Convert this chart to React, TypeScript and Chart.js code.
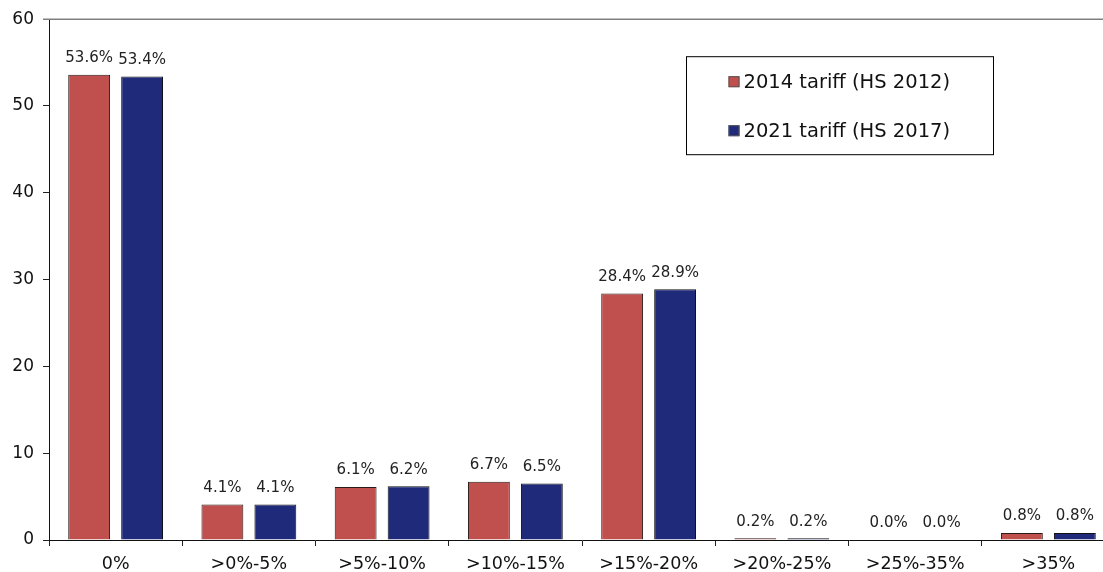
import React, { useEffect, useRef } from "react";
import { Chart, registerables } from "chart.js";

Chart.register(...registerables);

const categories = ["0%", ">0%-5%", ">5%-10%", ">10%-15%", ">15%-20%", ">20%-25%", ">25%-35%", ">35%"];
const tariff2014 = [53.6, 4.1, 6.1, 6.7, 28.4, 0.2, 0.0, 0.8];
const tariff2021 = [53.4, 4.1, 6.2, 6.5, 28.9, 0.2, 0.0, 0.8];
const seriesNames = ["2014 tariff (HS 2012)", "2021 tariff (HS 2017)"];
const yTicks = [0, 10, 20, 30, 40, 50, 60];

const FONT = "'DejaVu Sans', Verdana, sans-serif";
const RED = "#C0504D";
const BLUE = "#1F2A7B";

const labelPlugin = {
  id: "valueLabels",
  afterDatasetsDraw(chart: any) {
    const ctx = chart.ctx;
    ctx.save();
    ctx.font = `15px ${FONT}`;
    ctx.fillStyle = "#222";
    ctx.textAlign = "center";
    ctx.textBaseline = "bottom";
    chart.data.datasets.forEach((ds: any, i: number) => {
      const meta = chart.getDatasetMeta(i);
      meta.data.forEach((el: any, j: number) => {
        const v = ds.data[j];
        ctx.fillText(v.toFixed(1) + "%", el.x, el.y - 9);
      });
    });
    ctx.restore();
  },
};

const framePlugin = {
  id: "frame",
  afterDraw(chart: any) {
    const ctx = chart.ctx;
    const a = chart.chartArea;
    ctx.save();
    ctx.strokeStyle = "#808080";
    ctx.lineWidth = 1.5;
    ctx.beginPath();
    ctx.moveTo(a.left - 6, a.top);
    ctx.lineTo(a.right, a.top);
    ctx.stroke();

    // legend box
    const bx = a.left + 637.5;
    const by = a.top + 37.5;
    const bw = 307;
    const bh = 98;
    ctx.fillStyle = "#fff";
    ctx.fillRect(bx, by, bw, bh);
    ctx.strokeStyle = "#000";
    ctx.lineWidth = 1;
    ctx.strokeRect(bx, by, bw, bh);
    const colors = [RED, BLUE];
    ctx.font = `19.5px ${FONT}`;
    ctx.textBaseline = "middle";
    ctx.textAlign = "left";
    chart.data.datasets.forEach((ds: any, i: number) => {
      const cy = by + 25 + i * 49;
      ctx.fillStyle = colors[i];
      ctx.fillRect(bx + 42, cy - 5.5, 11, 11);
      ctx.strokeStyle = "#555";
      ctx.strokeRect(bx + 42.5, cy - 5, 10, 10);
      ctx.fillStyle = "#111";
      ctx.fillText(ds.label, bx + 57, cy + 1);
    });
    ctx.restore();
  },
};

export default function App() {
  const ref = useRef<HTMLCanvasElement | null>(null);
  useEffect(() => {
    if (!ref.current) return;
    const chart = new Chart(ref.current, {
      type: "bar",
      data: {
        labels: categories,
        datasets: [
          {
            label: seriesNames[0],
            data: tariff2014,
            backgroundColor: RED,
            borderColor: "#2a1a1a",
            borderWidth: 1,
            categoryPercentage: 0.795,
            barPercentage: 0.79,
          },
          {
            label: seriesNames[1],
            data: tariff2021,
            backgroundColor: BLUE,
            borderColor: "#111",
            borderWidth: 1,
            categoryPercentage: 0.795,
            barPercentage: 0.79,
          },
        ],
      },
      options: {
        responsive: false,
        animation: false,
        layout: { padding: { top: 19, right: 1, left: 0, bottom: 0 } },
        plugins: {
          legend: { display: false },
          tooltip: { enabled: false },
          title: { display: false },
        },
        scales: {
          x: {
            grid: {
              display: true,
              drawOnChartArea: false,
              drawTicks: true,
              tickLength: 6,
              color: "#222",
              offset: true,
            },
            border: { display: true, color: "#111", width: 1 },
            ticks: {
              font: { family: FONT, size: 17.5 },
              color: "#111",
              padding: 8,
              maxRotation: 0,
              autoSkip: false,
            },
            afterFit: (s: any) => {
              s.height = 32;
            },
          },
          y: {
            min: 0,
            max: 60,
            afterBuildTicks: (s: any) => {
              s.ticks = yTicks.map((v) => ({ value: v }));
            },
            grid: {
              display: true,
              drawOnChartArea: false,
              drawTicks: true,
              tickLength: 6,
              color: "#222",
            },
            border: { display: true, color: "#111", width: 1 },
            ticks: {
              font: { family: FONT, size: 17 },
              color: "#111",
              padding: 9,
            },
            afterFit: (s: any) => {
              s.width = 49;
            },
          },
        },
      },
      plugins: [labelPlugin, framePlugin],
    });
    return () => chart.destroy();
  }, []);
  return (
    <div
      style={{
        position: "fixed",
        left: 0,
        top: 0,
        width: 1103,
        height: 572,
        overflow: "hidden",
        background: "#fff",
      }}
    >
      <canvas ref={ref} width={1116} height={572} style={{ display: "block" }} />
    </div>
  );
}
